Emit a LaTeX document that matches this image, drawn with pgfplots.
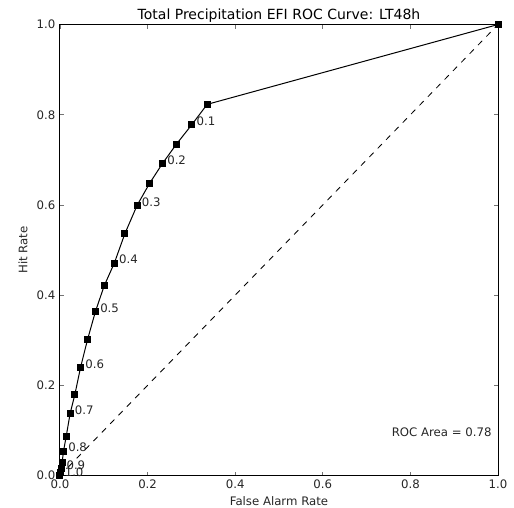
\documentclass[border=0pt]{standalone}
\usepackage{fontspec}
\setmainfont{DejaVu Sans}
\usepackage{pgfplots}
\pgfplotsset{compat=1.18}

\begin{document}
\begin{tikzpicture}
  \begin{axis}[
      scale only axis,
      width=328.5pt, height=338.25pt,
      xmin=0, xmax=1, ymin=0, ymax=1,
      xtick={0,0.2,0.4,0.6,0.8,1.0},
      ytick={0,0.2,0.4,0.6,0.8,1.0},
      tick align=inside,
      tick pos=both,
      major tick length=3pt,
      every tick/.style={black!55, line width=0.5pt},
      axis line style={line width=0.75pt},
      /pgf/number format/assume math mode=true,
      /pgf/number format/.cd, fixed, fixed zerofill, precision=1, /pgfplots/.cd,
      ticklabel style={font=\fontsize{8.8}{10}\selectfont, black!85},
      xlabel={False Alarm Rate},
      ylabel={Hit Rate},
      label style={font=\fontsize{8.8}{10}\selectfont, black!85},
      xlabel style={yshift=1.5pt},
      title={Total Precipitation EFI ROC Curve: LT48h},
      title style={font=\fontsize{10.5}{12}\selectfont, at={(0.5,1)}, anchor=base,
        inner sep=0pt, yshift=-1.9pt},
    ]
    \coordinate (sw) at (rel axis cs:0,0);
    \coordinate (ne) at (rel axis cs:1,1);
    % no-skill diagonal
    \addplot[black, line width=0.6pt, dash pattern=on 4.5pt off 4.5pt] coordinates {(0,0) (1,1)};
    % ROC curve, thresholds 1.0 ... 0.0
    \addplot[black, line width=0.75pt, mark=square*, mark size=2.25pt,
      mark options={solid}] coordinates {
      (0.000,0.000) (0.002,0.006) (0.004,0.015) (0.005,0.030) (0.008,0.054)
      (0.014,0.086) (0.023,0.137) (0.034,0.180) (0.047,0.240) (0.063,0.302)
      (0.081,0.364) (0.101,0.421) (0.124,0.471) (0.148,0.536) (0.176,0.599)
      (0.204,0.647) (0.234,0.692) (0.266,0.735) (0.301,0.778) (0.336,0.823)
      (1.000,1.000)
    };
    % threshold labels
    \addplot[draw=none, mark=none, nodes near coords, point meta=explicit symbolic,
      every node near coord/.style={anchor=base west, inner sep=0pt,
        xshift=3.4pt, yshift=-0.6pt, font=\fontsize{8.8}{10}\selectfont, black!85}]
      coordinates {
      (0.000,0.000) [1.0] (0.004,0.015) [0.9] (0.008,0.054) [0.8]
      (0.023,0.137) [0.7] (0.047,0.240) [0.6] (0.081,0.364) [0.5]
      (0.124,0.471) [0.4] (0.176,0.599) [0.3] (0.234,0.692) [0.2]
      (0.301,0.778) [0.1]
    };
    \node[anchor=base west, inner sep=0pt, font=\fontsize{8.8}{10}\selectfont, black!85]
      at (axis cs:0.757,0.087) {ROC Area = 0.78};
  \end{axis}
  \pgfresetboundingbox
  \path ([xshift=-45pt,yshift=-24pt]sw) rectangle ([xshift=12pt,yshift=18.4pt]ne);
\end{tikzpicture}
\end{document}
